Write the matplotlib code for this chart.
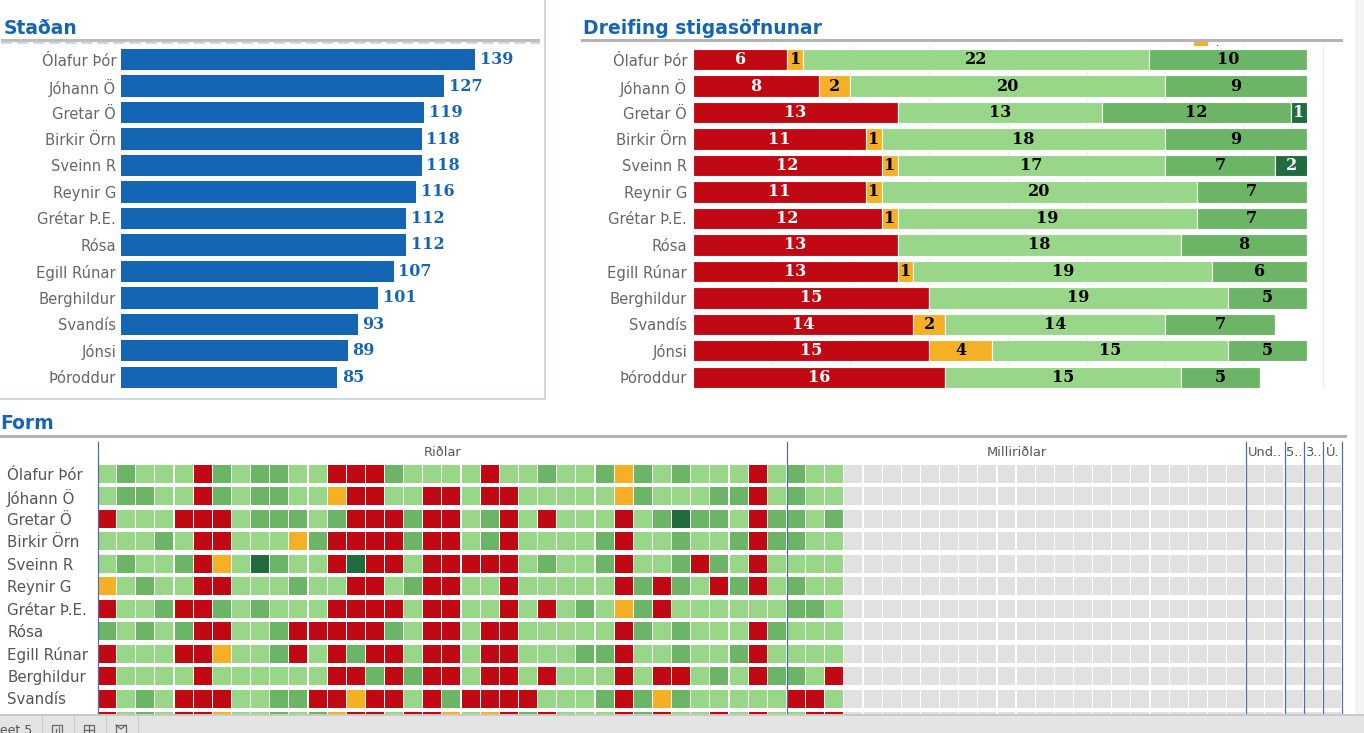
import numpy as np
import matplotlib
matplotlib.use("Agg")
import matplotlib.pyplot as plt
from matplotlib.patches import Rectangle

# ---------- data ----------
players = ["Ólafur Þór", "Jóhann Ö", "Gretar Ö", "Birkir Örn", "Sveinn R", "Reynir G",
           "Grétar Þ.E.", "Rósa", "Egill Rúnar", "Berghildur", "Svandís", "Jónsi", "Þóroddur"]
totals = [139, 127, 119, 118, 118, 116, 112, 112, 107, 101, 93, 89, 85]

dist_red = [6, 8, 13, 11, 12, 11, 12, 13, 13, 15, 14, 15, 16]
dist_orange = [1, 2, 0, 1, 1, 1, 1, 0, 1, 0, 2, 4, 0]
dist_light = [22, 20, 13, 18, 17, 20, 19, 18, 19, 19, 14, 15, 15]
dist_medium = [10, 9, 12, 9, 7, 7, 7, 8, 6, 5, 7, 5, 5]
dist_dark = [0, 0, 1, 0, 2, 0, 0, 0, 0, 0, 0, 0, 0]

form_rows = [
    "LMLLLRMLMMLLRRRMLLLLRLLMLLMOMLMLLLRLMLL",
    "LMMLLRMLMMLLORRLLRRLRRLLLLLOMLLLMMRLMLL",
    "RLLLRRRLMMMLMRRRMRRLMRLRLLLRLMDMMLRMMLM",
    "LLLMLRRLLLOMRRRRMRRLMRLLLLMRLLMLLMRMMLL",
    "LMLLMROLDMLLRDRRLRRRRRLMLLMRLLMRMLRLLLL",
    "OLMLLRRLLLMLLRRLMRRLLRLLLLLRMRMLRMRLMLL",
    "RLLMRRMLMLLLRRRRLRRLLRLRLMLOMRLLLLLLMML",
    "MLMLMRRLLMRRRRRMLRRLRRLLLLLRMLMLLLRMLLL",
    "RLLLRROLLMRLRMRRLRRLRRLLLMMRLLMLLMRLLLL",
    "RLLLLRLLLLLLRRMRMRRLRRLRLLLRLRRLMLRMMLR",
    "RLMLRRRLLMMRRORRLRMRRRRLLLMRMOMLLLLLRRL",
    "RLMLRROLLMLMORRLRROLORMRLLLRMRLLRLRLLRR",
]
n_columns = 65
stage_names = ["Riðlar", "Milliriðlar", "Und..", "5..", "3..", "Ú."]
stage_sizes = [36, 24, 2, 1, 1, 1]

# ---------- styles ----------
W, H = 1364, 733
RED, ORANGE, LIGHT, MEDIUM, DARK, GREY = "#c10913", "#f6b026", "#98d788", "#6db566", "#206b40", "#e1e1e1"
BLUE = "#1565b5"
CODE = {"R": RED, "O": ORANGE, "L": LIGHT, "M": MEDIUM, "D": DARK, "G": GREY}
RULE = "#b4b4b4"
PANEL = "#cdd9e4"
SEP = "#4f71a0"
TXT = "#666666"
DARKTXT = "#555555"
SANS = "DejaVu Sans"
SERIF = "DejaVu Serif"

fig = plt.figure(figsize=(W / 100, H / 100), dpi=100, facecolor="white")


def axes_px(left, top, right, bottom, **kw):
    a = fig.add_axes([left / W, 1 - bottom / H, (right - left) / W, (bottom - top) / H], **kw)
    a.patch.set_alpha(0)
    for s in a.spines.values():
        s.set_visible(False)
    return a


rows = np.arange(len(players))
ROW0, PITCH = 59.6, 26.47

# ---------- left: totals ----------
ax1 = axes_px(121, 46, 540, 392)
ax1.set_xlim(0, (540 - 121) / 2.547)
ax1.set_ylim((392 - ROW0) / PITCH, (46 - ROW0) / PITCH)
b = ax1.barh(rows, totals, height=0.81, color=BLUE)
ax1.bar_label(b, labels=[str(v) for v in totals], padding=3.4, color=BLUE,
              fontsize=11.5, fontweight="bold", family=SERIF)
ax1.set_xticks([])
ax1.set_yticks(rows, players, fontsize=10.6, color=TXT, family=SANS)
ax1.tick_params(axis="y", length=0, pad=3.6)

# ---------- right: distribution ----------
ax2 = axes_px(693, 46, 1330, 388)
ax2.set_xlim(0, (1330 - 693) / 15.74)
ax2.set_ylim((388 - ROW0) / PITCH, (46 - ROW0) / PITCH)
ax2.set_axisbelow(True)
ax2.set_xticks(np.arange(0, 45, 5))
ax2.tick_params(axis="x", length=0, labelbottom=False)
ax2.grid(axis="x", color="#efefef", lw=1)
left = np.zeros(len(players))
for vals, col, tc in [(dist_red, RED, "white"), (dist_orange, ORANGE, "black"),
                      (dist_light, LIGHT, "black"), (dist_medium, MEDIUM, "black"),
                      (dist_dark, DARK, "white")]:
    b = ax2.barh(rows, vals, left=left, height=0.81, color=col, edgecolor="white", linewidth=0.8)
    ax2.bar_label(b, labels=[str(v) if v else "" for v in vals], label_type="center",
                  color=tc, fontsize=11.5, fontweight="bold", family=SERIF)
    left += np.array(vals)
ax2.set_yticks(rows, players, fontsize=10.6, color=TXT, family=SANS)
ax2.tick_params(axis="y", length=0, pad=4.3)

# ---------- bottom: form grid ----------
FROW0, FPITCH, COLW = 474.0, 22.45, 1244 / n_columns
ax3 = axes_px(98, 442, 1342, H)
ax3.set_xlim(0, n_columns)
ax3.set_ylim((H - FROW0) / FPITCH, (442 - FROW0) / FPITCH)
for i, code in enumerate(form_rows):
    cells = code + "G" * (n_columns - len(code))
    ax3.barh(np.full(n_columns, i), np.full(n_columns, 0.94), left=np.arange(n_columns),
             height=18 / FPITCH, align="center", color=[CODE[c] for c in cells], linewidth=0)
ax3.set_xticks([])
ax3.set_yticks(np.arange(len(form_rows)), players[:len(form_rows)], fontsize=10.8, color=DARKTXT,
               family=SANS, ha="left")
ax3.tick_params(axis="y", length=0, pad=91 * 0.72)
edges = np.concatenate([[0], np.cumsum(stage_sizes)])
for e in edges:
    ax3.axvline(e, color=SEP, lw=0.9, clip_on=False, zorder=5)
head_y = (452.5 - FROW0) / FPITCH
for name, a, z in zip(stage_names, edges[:-1], edges[1:]):
    ax3.text((a + z) / 2, head_y, name, ha="center", va="center", fontsize=9.4,
             color=DARKTXT, family=SANS)

# ---------- page furniture ----------
ch = axes_px(0, 0, W, H, zorder=10)
ch.set_xlim(0, W)
ch.set_ylim(H, 0)
ch.set_xticks([])
ch.set_yticks([])


def box(x0, y0, x1, y1, color, **kw):
    ch.add_patch(Rectangle((x0, y0), x1 - x0, y1 - y0, facecolor=color, linewidth=0, **kw))


def title(x, y, s):
    ch.text(x, y, s, fontsize=13.5, fontweight="bold", color=BLUE, family=SANS, va="baseline")


title(4, 34.5, "Staðan")
title(583, 34.5, "Dreifing stigasöfnunar")
title(0, 429, "Form")

# panel frame
box(544, 0, 546, 400, PANEL)
box(0, 398, 546, 400, PANEL)
# section rules
box(1, 39, 540, 42, "#bdbdbd")
ch.plot([1, 540], [43, 43], color=PANEL, lw=1.5, ls=(0, (5.5, 2.2)))
box(581, 39, 1343, 42, RULE)
box(0, 435, 1347, 438, RULE)
# clipped mark above the distribution bars
box(1194, 42, 1208, 46, ORANGE)
box(1216.5, 44.5, 1218, 46, "#444444")
# scrollbar gutter
box(1355, 0, W, 715, "#f4f4f4")
# bottom tab strip
box(0, 715, W, H, "#e4e4e4")
box(0, 714, W, 715.5, "#c9c9c9")
for x in [41.5, 73.5, 105.5, 137.5]:
    box(x, 715, x + 1, H, "#c9c9c9")
ch.text(32, 734.5, "Sheet 5", ha="right", va="baseline", fontsize=9, color=DARKTXT, family=SANS,
        clip_on=True)
ICON = "#6a6a6a"
for x0 in [52, 84, 116]:
    ch.plot([x0, x0, x0 + 10, x0 + 10], [H, 725, 725, H], color=ICON, lw=0.9)
ch.plot([56, 56], [729, H], color=ICON, lw=0.9)
ch.plot([59, 59], [727, H], color=ICON, lw=0.9)
ch.plot([84, 94], [730, 730], color=ICON, lw=0.9)
ch.plot([89, 89], [725, H], color=ICON, lw=0.9)
ch.plot([116, 121, 126], [725, 729, 725], color=ICON, lw=0.9)

fig.savefig("out.png", dpi=100)
